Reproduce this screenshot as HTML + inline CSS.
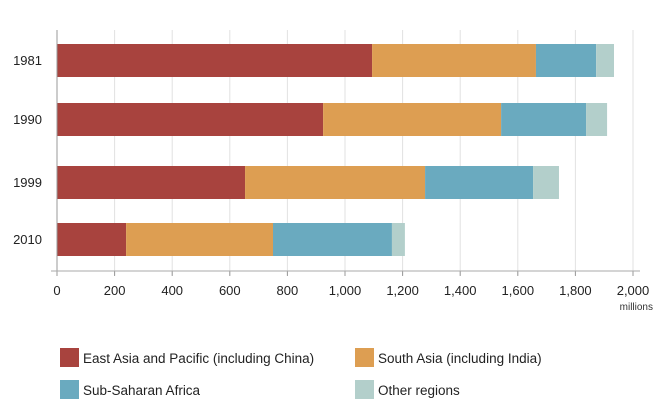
<!DOCTYPE html>
<html><head><style>
body{margin:0;background:#fff;font-family:"Liberation Sans",sans-serif}
</style></head><body>
<svg id="c" width="666" height="413" xmlns="http://www.w3.org/2000/svg"></svg>
<script>
const years=["1981","1990","1999","2010"];
const eastAsia=[1094,924,653,240];
const southAsia=[569,618,625,510];
const ssAfrica=[209,295,375,413];
const other=[62,73,90,45];
const ticks=[0,200,400,600,800,1000,1200,1400,1600,1800,2000];
const tickLabels=["0","200","400","600","800","1,000","1,200","1,400","1,600","1,800","2,000"];
const series=[eastAsia,southAsia,ssAfrica,other];
const colors=["#a8433e","#dd9e52","#6aaabf","#b3cfcb"];
const names=["east-asia","south-asia","sub-saharan-africa","other-regions"];
const svg=document.getElementById('c');
const NS="http://www.w3.org/2000/svg";
const x=v=>57+v*0.288;
const barTops=[44,103,166,223];
const y=i=>barTops[i];
function mk(t,a,txt){const e=document.createElementNS(NS,t);for(const k in a)e.setAttribute(k,a[k]);if(txt!==undefined)e.textContent=txt;svg.appendChild(e);return e;}
ticks.forEach((t,i)=>{
  if(t>0){const g=mk('line',{x1:x(t),x2:x(t),y1:30,y2:275,stroke:'#e2e2e2','stroke-width':1});
  
  }
  const tk=mk('line',{x1:x(t),x2:x(t),y1:271,y2:276,stroke:'#999'});
  
  
  const l=mk('text',{x:x(t),y:295,'text-anchor':'middle','font-size':13,fill:'#222'},tickLabels[i]);
  
  
});
years.forEach((yr,i)=>{
  let acc=0;
  series.forEach((s,j)=>{
    const r=mk('rect',{x:x(acc),y:y(i),width:x(acc+s[i])-x(acc),height:33,fill:colors[j]});
    
    
    acc+=s[i];
  });
  const l=mk('text',{x:42,y:y(i)+21,'text-anchor':'end','font-size':13,fill:'#222'},yr);
  
  
});
const za=mk('line',{x1:57,x2:57,y1:30,y2:271,stroke:'#999'});


const xa=mk('line',{x1:51,x2:640,y1:271,y2:271,stroke:'#aaa'});


const u=mk('text',{x:653,y:310,'text-anchor':'end','font-size':10,fill:'#333'},'millions');


const leg=[["East Asia and Pacific (including China)",60,348],["South Asia (including India)",355,348],["Sub-Saharan Africa",60,380],["Other regions",355,380]];
leg.forEach((L,j)=>{
  const s=mk('rect',{x:L[1],y:L[2],width:19,height:19,fill:colors[j]});
  
  
  const t=mk('text',{x:L[1]+23,y:L[2]+15,'font-size':13.5,fill:'#222'},L[0]);
  
  
});
</script>
</body></html>
